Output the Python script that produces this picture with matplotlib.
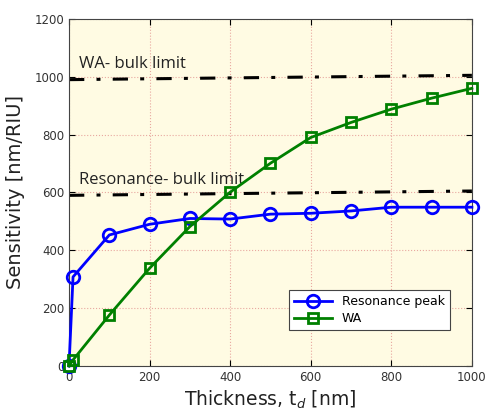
import matplotlib
matplotlib.use("Agg")
import matplotlib.pyplot as plt

thickness = [0, 10, 100, 200, 300, 400, 500, 600, 700, 800, 900, 1000]
resonance_peak = [0, 308, 453, 490, 510, 508, 525, 528, 536, 549, 549, 549]
wa = [0, 21, 176, 338, 482, 601, 701, 790, 842, 888, 926, 960]
wa_bulk_x = [0, 1000]
wa_bulk_y = [990, 1005]
res_bulk_x = [0, 1000]
res_bulk_y = [590, 605]
xticks = [0, 200, 400, 600, 800, 1000]
yticks = [0, 200, 400, 600, 800, 1000, 1200]

fig = plt.figure(figsize=(4.86, 4.11), dpi=100)
ax = fig.add_axes([0.142, 0.1095, 0.829, 0.8445])
ax.set_facecolor('#fffbe3')

ax.plot(wa_bulk_x, wa_bulk_y, color='black', lw=2.2, dashes=(5, 4, 1.3, 4))
ax.plot(res_bulk_x, res_bulk_y, color='black', lw=2.2, dashes=(5, 4, 1.3, 4))

ax.plot(thickness, resonance_peak, color='#0000ff', lw=2, marker='o', ms=9,
        mfc='none', mew=2, label='Resonance peak', clip_on=False, zorder=4)
ax.plot(thickness, wa, color='#008000', lw=2, marker='s', ms=7,
        mfc='none', mew=2, label='WA', clip_on=False, zorder=5)

ax.set_xlim(0, 1000)
ax.set_ylim(0, 1200)
ax.set_xticks(xticks)
ax.set_yticks(yticks)
ax.tick_params(direction='in', top=True, right=True, labelsize=8.5,
               labelcolor='#333333', length=4)
ax.grid(True, color='#e8a8a0', ls=':', lw=0.8)
for s in ax.spines.values():
    s.set_color('#444444')

ax.set_xlabel('Thickness, t$_d$ [nm]', fontsize=13.5, color='#222222')
ax.set_ylabel('Sensitivity [nm/RIU]', fontsize=14, color='#222222')
ax.xaxis.set_label_coords(0.5, -0.065)
ax.yaxis.set_label_coords(-0.108, 0.5)

ax.text(25, 1030, 'WA- bulk limit', fontsize=12, family='Open Sans', color='#222222')
ax.text(25, 630, 'Resonance- bulk limit', fontsize=12, family='Open Sans', color='#222222')

leg = ax.legend(loc='lower right', bbox_to_anchor=(0.96, 0.085), fontsize=9,
                fancybox=False, edgecolor='#444444', framealpha=1,
                handlelength=3, borderpad=0.4, labelspacing=0.3)
leg.get_frame().set_linewidth(0.8)

fig.savefig('out.png', dpi=100)
